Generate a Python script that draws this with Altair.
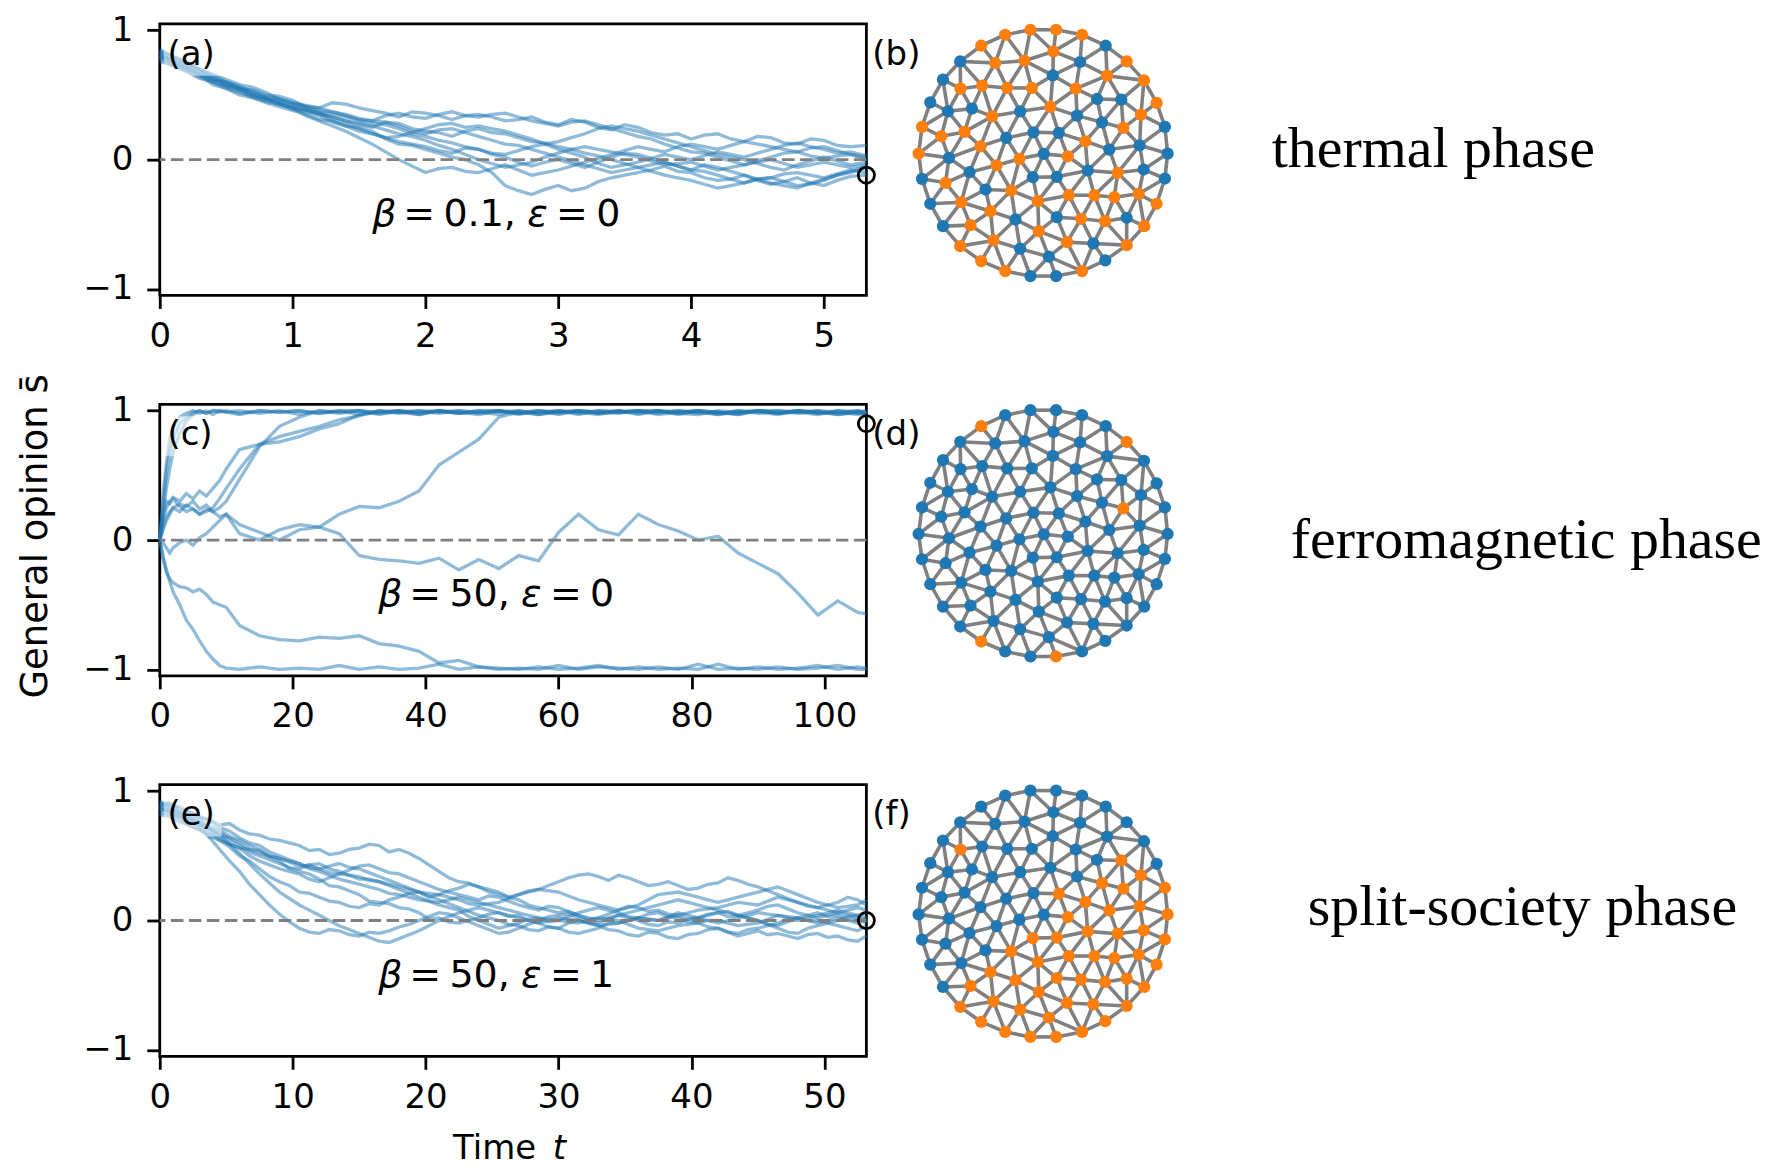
import altair as alt
import pandas as pd

BLUE = "#1f77b4"
ORANGE = "#ff7f0e"

# ---------------- trajectories ----------------
T_A = [0.0, 0.1, 0.2, 0.3, 0.4, 0.5, 0.6, 0.7, 0.8, 0.9, 1.0, 1.1, 1.2, 1.3, 1.4, 1.5, 1.6, 1.7,
       1.8, 1.9, 2.0, 2.1, 2.2, 2.3, 2.4, 2.5, 2.6, 2.7, 2.8, 2.9, 3.0, 3.1, 3.2, 3.3, 3.4, 3.5,
       3.6, 3.7, 3.8, 3.9, 4.0, 4.1, 4.2, 4.3, 4.4, 4.5, 4.6, 4.7, 4.8, 4.9, 5.0, 5.1, 5.2, 5.32]
A1 = [.84, .80, .74, .70, .62, .60, .55, .54, .50, .49, .46, .41, .40, .44, .43, .40, .38, .36, .33, .37, .36, .34, .31, .34, .35, .33, .30, .31, .33, .29, .27, .31, .29, .25, .23, .27, .25, .21, .19, .20, .16, .19, .20, .16, .14, .18, .17, .13, .12, .16, .15, .11, .10, .11]
A2 = [.80, .76, .70, .66, .58, .55, .50, .48, .44, .41, .38, .35, .31, .30, .26, .25, .22, .16, .12, .11, .08, .05, .02, .00, -.04, -.10, -.20, -.24, -.27, -.23, -.20, -.24, -.22, -.17, -.14, -.12, -.10, -.08, -.05, -.09, -.10, -.14, -.16, -.15, -.12, -.16, -.19, -.17, -.14, -.18, -.20, -.16, -.13, -.12]
A3 = [.78, .72, .69, .64, .60, .57, .54, .50, .47, .44, .40, .38, .35, .33, .30, .27, .25, .29, .28, .24, .22, .21, .18, .22, .24, .21, .20, .17, .14, .13, .10, .08, .05, .03, .00, -.03, -.06, -.04, -.02, -.05, -.08, -.09, -.12, -.15, -.18, -.15, -.14, -.17, -.20, -.19, -.16, -.12, -.09, -.05]
A4 = [.85, .80, .76, .70, .66, .62, .58, .56, .52, .47, .44, .41, .38, .37, .34, .31, .30, .34, .36, .33, .32, .35, .37, .34, .33, .35, .36, .33, .30, .28, .26, .29, .30, .27, .24, .21, .18, .16, .12, .09, .06, .05, .02, -.01, -.04, -.01, .02, .05, .06, .03, .01, .03, .04, .00]
A5 = [.82, .76, .72, .69, .64, .58, .55, .50, .47, .45, .42, .39, .36, .31, .28, .24, .20, .17, .14, .12, .10, .07, .05, .09, .08, .04, .02, -.02, -.05, -.02, .00, -.03, -.06, -.02, .02, .05, .04, .01, -.02, -.05, -.08, -.04, -.06, -.09, -.12, -.15, -.18, -.20, -.22, -.18, -.15, -.12, -.10, -.06]
A6 = [.76, .73, .68, .63, .60, .55, .52, .49, .46, .43, .40, .34, .30, .26, .22, .17, .12, .06, .00, -.05, -.10, -.07, -.06, -.09, -.10, -.07, -.04, -.08, -.12, -.10, -.08, -.05, -.02, .01, .04, .07, .10, .08, .06, .10, .12, .10, .08, .11, .14, .12, .10, .08, .06, .09, .10, .07, .04, .02]
A7 = [.80, .74, .70, .67, .62, .60, .57, .52, .48, .46, .43, .40, .37, .35, .33, .30, .28, .27, .24, .20, .18, .15, .13, .10, .08, .05, .04, .07, .10, .12, .14, .17, .20, .24, .26, .24, .22, .19, .16, .13, .10, .07, .04, .02, .00, -.03, -.06, -.08, -.04, -.01, .02, -.01, -.04, -.02]
A8 = [.83, .78, .75, .70, .65, .60, .56, .53, .49, .47, .44, .42, .40, .37, .35, .32, .30, .29, .26, .22, .20, .23, .24, .21, .18, .15, .12, .11, .08, .05, .02, -.01, -.04, -.07, -.10, -.08, -.06, -.09, -.12, -.14, -.16, -.19, -.22, -.20, -.18, -.15, -.14, -.11, -.10, -.12, -.14, -.11, -.08, -.10]
A9 = [.79, .76, .71, .66, .63, .58, .55, .51, .48, .43, .39, .37, .34, .29, .26, .22, .20, .17, .18, .21, .24, .27, .28, .25, .26, .24, .22, .19, .16, .12, .08, .05, .02, -.03, -.06, -.04, -.02, .01, .04, .02, .00, .03, .06, .04, .02, .05, .08, .11, .13, .10, .08, .05, .06, .03]
A10 = [.81, .77, .73, .66, .61, .57, .53, .48, .45, .43, .41, .38, .36, .33, .30, .28, .26, .23, .20, .18, .15, .11, .08, .04, .00, -.03, -.06, -.04, -.02, .02, .05, .08, .10, .08, .06, .04, .02, -.01, -.04, -.03, -.02, -.05, -.08, -.06, -.04, -.02, .00, -.03, -.06, -.04, -.02, -.04, -.06, -.04]

T_C = [0.0, 0.5, 1.0, 1.5, 2.0, 3.0, 4.0, 5.0, 6.0, 7.0, 8.0, 9.0, 10.0,
       12, 15, 18, 21, 24, 27, 30, 33, 36, 39, 42, 45, 48, 51, 54, 57, 60, 63, 66, 69,
       72, 75, 78, 81, 84, 87, 90, 93, 96, 99, 102, 105, 106.3]
C1 = [0.00, 0.35, 0.60, 0.78, 0.88, 0.95, 0.98, 1.00, 0.98, 1.00, 0.97, 1.00, 0.99,
      1.00, 0.98, 1.00, 0.97, 1.00, 0.99, 1.00, 0.98, 0.99, 1.00,
      0.98, 1.00, 0.99, 0.97, 1.00, 0.98, 1.00, 0.99, 0.97, 1.00,
      0.98, 1.00, 0.99, 1.00, 0.97, 0.99, 1.00, 0.98, 1.00, 0.99,
      0.97, 0.99, 0.98]
C2 = [0.00, 0.20, 0.40, 0.55, 0.68, 0.82, 0.92, 0.97, 1.00, 0.98, 1.00, 0.99, 1.00,
      0.98, 1.00, 0.99, 1.00, 0.98, 1.00, 0.97, 0.99, 1.00, 0.98,
      1.00, 0.99, 0.97, 1.00, 0.98, 0.99, 1.00, 0.97, 1.00, 0.99,
      1.00, 0.98, 1.00, 0.99, 0.97, 1.00, 0.98, 1.00, 0.99, 0.97,
      1.00, 0.98, 0.97]
C3 = [0.00, 0.15, 0.25, 0.30, 0.33, 0.30, 0.36, 0.32, 0.38, 0.34, 0.40, 0.46, 0.55,
      0.70, 0.74, 0.80, 0.84, 0.88, 0.93, 0.96, 1.00, 0.98, 1.00,
      0.99, 1.00, 0.98, 1.00, 0.97, 1.00, 0.99, 1.00, 0.98, 0.99,
      1.00, 0.97, 0.99, 1.00, 0.98, 1.00, 0.99, 0.97, 1.00, 0.98,
      0.99, 1.00, 0.98]
C4 = [0.00, 0.20, 0.30, 0.28, 0.32, 0.26, 0.22, 0.24, 0.20, 0.22, 0.25, 0.32, 0.40,
      0.55, 0.74, 0.76, 0.80, 0.86, 0.90, 0.97, 1.00, 0.99, 0.97,
      1.00, 0.98, 1.00, 0.99, 1.00, 0.97, 0.99, 1.00, 0.98, 1.00,
      0.99, 1.00, 0.98, 0.97, 1.00, 0.99, 1.00, 0.98, 0.99, 1.00,
      0.97, 0.99, 1.00]
C5 = [0.00, 0.10, 0.18, 0.22, 0.25, 0.28, 0.26, 0.30, 0.24, 0.27, 0.22, 0.25, 0.30,
      0.47, 0.72, 0.88, 0.95, 1.00, 0.98, 1.00, 0.99, 1.00, 0.97,
      1.00, 0.98, 0.99, 1.00, 0.98, 1.00, 0.97, 1.00, 0.99, 0.98,
      1.00, 0.99, 1.00, 0.98, 0.99, 0.97, 1.00, 0.99, 1.00, 0.98,
      1.00, 0.99, 0.98]
C6 = [0.00, -0.02, -0.06, -0.10, -0.06, -0.02, 0.00, -0.04, 0.02, 0.05, 0.10, 0.15, 0.20,
      0.12, 0.06, 0.00, 0.08, 0.10, 0.20, 0.26, 0.25, 0.30, 0.38,
      0.58, 0.68, 0.78, 0.95, 0.99, 1.00, 0.98, 1.00, 0.99, 1.00,
      0.97, 1.00, 0.98, 1.00, 0.99, 0.97, 1.00, 0.98, 1.00, 0.99,
      0.98, 1.00, 0.99]
C7 = [0.00, 0.08, 0.15, 0.20, 0.25, 0.22, 0.27, 0.24, 0.20, 0.24, 0.22, 0.18, 0.20,
      0.05, 0.00, 0.08, 0.12, 0.10, 0.05, -0.12, -0.15, -0.16, -0.18,
      -0.14, -0.23, -0.15, -0.22, -0.12, -0.16, 0.06, 0.20, 0.08, 0.04,
      0.20, 0.12, 0.07, 0.00, 0.03, -0.10, -0.18, -0.26, -0.41, -0.58,
      -0.47, -0.56, -0.57]
C8 = [0.00, -0.12, -0.23, -0.32, -0.40, -0.50, -0.62, -0.69, -0.78, -0.86, -0.92, -0.97, -0.99,
      -1.00, -0.98, -1.00, -0.99, -1.00, -0.97, -1.00, -0.98, -1.00, -0.99,
      -0.96, -1.00, -0.98, -1.00, -0.99, -1.00, -0.97, -1.00, -0.98, -0.99,
      -1.00, -0.98, -1.00, -0.96, -1.00, -0.99, -1.00, -0.98, -1.00, -0.99,
      -0.97, -1.00, -1.00]
C9 = [0.00, -0.15, -0.25, -0.30, -0.33, -0.36, -0.37, -0.40, -0.38, -0.42, -0.48, -0.50, -0.52,
      -0.66, -0.74, -0.77, -0.78, -0.75, -0.76, -0.74, -0.80, -0.82, -0.86,
      -0.95, -0.93, -0.98, -0.99, -1.00, -0.98, -1.00, -0.99, -0.97, -1.00,
      -0.98, -1.00, -0.99, -1.00, -0.96, -1.00, -0.98, -1.00, -0.99, -0.97,
      -1.00, -0.98, -0.99]
C10 = [0.00, 0.28, 0.52, 0.68, 0.78, 0.90, 0.95, 0.99, 1.00, 0.98, 1.00, 1.00, 0.99,
       0.97, 1.00, 0.99, 1.00, 0.98, 1.00, 1.00, 0.97, 1.00, 0.99,
       1.00, 0.98, 1.00, 1.00, 0.99, 0.97, 1.00, 0.98, 1.00, 0.99,
       1.00, 1.00, 0.97, 1.00, 0.99, 0.98, 1.00, 1.00, 0.98, 1.00,
       0.99, 0.97, 0.99]

T_E = [0.0, 0.75, 1.5, 2.25, 3.0, 3.75, 4.5, 5.25, 6.0, 6.75, 7.5, 8.25, 9.0, 9.75, 10.5, 11.25,
       12.0, 12.75, 13.5, 14.25, 15.0, 15.75, 16.5, 17.25, 18.0, 18.75, 19.5, 20.25, 21.0, 21.75,
       22.5, 23.25, 24.0, 24.75, 25.5, 26.25, 27.0, 27.75, 28.5, 29.25, 30.0, 30.75, 31.5, 32.25,
       33.0, 33.75, 34.5, 35.25, 36.0, 36.75, 37.5, 38.25, 39.0, 39.75, 40.5, 41.25, 42.0, 42.75,
       43.5, 44.25, 45.0, 45.75, 46.5, 47.25, 48.0, 48.75, 49.5, 50.25, 51.0, 51.75, 52.5, 53.16]
E1 = [.90, .91, .86, .84, .80, .78, .74, .75, .70, .67, .66, .63, .62, .60, .58, .54, .55, .51, .52, .55, .56, .59, .58, .53, .55, .52, .48, .43, .38, .33, .30, .29, .26, .24, .22, .18, .20, .23, .24, .27, .30, .33, .35, .36, .34, .31, .35, .33, .30, .27, .28, .30, .27, .24, .25, .28, .29, .33, .31, .28, .26, .23, .20, .17, .14, .11, .10, .12, .14, .18, .16, .12]
E2 = [.88, .86, .82, .79, .74, .69, .62, .57, .50, .46, .40, .34, .30, .27, .22, .21, .18, .15, .14, .11, .10, .13, .12, .16, .18, .21, .22, .18, .20, .23, .25, .28, .26, .22, .20, .18, .16, .12, .10, .08, .06, .07, .04, .01, .02, .05, .08, .11, .10, .07, .08, .05, .04, .01, .02, .04, .06, .07, .04, .02, .00, -.03, -.04, -.01, .02, .04, .06, .03, .04, .01, .00, .02]
E3 = [.86, .84, .80, .77, .72, .64, .55, .46, .38, .28, .20, .12, .05, -.01, -.06, -.09, -.10, -.07, -.08, -.11, -.12, -.09, -.10, -.08, -.05, -.03, .00, .03, .06, .05, .02, -.01, -.04, -.07, -.10, -.09, -.06, -.03, .00, .03, .04, .05, .02, -.01, -.02, .01, .04, .02, .00, -.03, -.04, -.01, -.02, .01, .02, .05, .06, .03, .04, .02, .00, -.03, -.06, -.09, -.10, -.06, -.04, -.02, .00, .03, .04, .02]
E4 = [.90, .87, .84, .82, .78, .73, .70, .65, .62, .58, .55, .50, .48, .45, .42, .43, .40, .42, .44, .41, .40, .37, .34, .31, .28, .25, .22, .19, .16, .13, .10, .07, .04, .02, .00, -.03, -.04, -.07, -.08, -.05, -.06, -.02, .00, -.02, -.04, -.07, -.08, -.11, -.12, -.09, -.10, -.13, -.14, -.11, -.10, -.07, -.06, -.09, -.12, -.10, -.08, -.11, -.10, -.12, -.14, -.11, -.10, -.13, -.12, -.15, -.16, -.12]
E5 = [.84, .82, .78, .73, .70, .67, .64, .59, .56, .50, .46, .43, .40, .38, .36, .32, .30, .33, .36, .39, .42, .43, .40, .37, .36, .33, .30, .27, .24, .22, .20, .18, .16, .19, .18, .15, .12, .10, .08, .11, .10, .07, .04, .02, .00, .02, .04, .06, .08, .10, .12, .14, .16, .14, .12, .10, .08, .06, .04, .06, .08, .11, .12, .09, .06, .04, .02, .04, .06, .08, .10, .08]
E6 = [.88, .83, .80, .79, .76, .71, .68, .62, .58, .53, .50, .47, .44, .41, .40, .43, .44, .40, .38, .35, .32, .32, .30, .27, .24, .21, .18, .15, .12, .10, .08, .03, .00, -.03, -.06, -.04, -.02, .01, .02, -.01, .00, .03, .06, .08, .10, .08, .06, .03, .02, .01, .00, .02, .04, .06, .08, .09, .10, .12, .14, .13, .12, .15, .18, .16, .14, .12, .10, .08, .06, .04, .02, -.02]
E7 = [.86, .85, .82, .80, .76, .71, .66, .59, .52, .44, .36, .29, .22, .17, .12, .08, .04, .00, -.04, -.07, -.10, -.13, -.16, -.17, -.14, -.11, -.08, -.04, .00, .03, .06, .08, .10, .08, .06, .04, .02, .00, -.02, .00, .02, .01, .00, -.02, -.04, -.03, -.02, .00, .02, .01, .00, .03, .06, .04, .02, .00, -.02, .00, .02, .04, .06, .05, .04, .02, .00, .02, .04, .06, .08, .06, .04, .06]
E8 = [.92, .89, .88, .84, .80, .77, .72, .69, .64, .60, .58, .53, .50, .47, .44, .40, .38, .35, .32, .30, .28, .26, .24, .21, .20, .18, .16, .15, .14, .16, .18, .16, .14, .12, .10, .08, .06, .04, .02, .01, .00, -.01, -.02, .00, .02, .01, .00, -.03, -.06, -.07, -.08, -.06, -.04, -.03, -.02, .00, .00, -.02, -.04, -.03, -.02, .01, .04, .03, .02, .00, -.02, .00, .02, .00, -.02, .00]
E9 = [.82, .80, .76, .74, .70, .65, .62, .59, .56, .55, .52, .50, .48, .46, .44, .41, .40, .37, .36, .35, .34, .31, .30, .28, .26, .24, .22, .21, .20, .18, .16, .13, .12, .13, .14, .17, .20, .22, .24, .23, .22, .19, .16, .14, .12, .10, .08, .10, .12, .16, .20, .21, .22, .20, .18, .16, .14, .16, .18, .20, .22, .24, .26, .23, .20, .17, .14, .12, .10, .11, .12, .16]
E10 = [.90, .89, .84, .77, .74, .71, .66, .64, .60, .55, .54, .49, .46, .40, .38, .36, .32, .27, .26, .23, .20, .15, .14, .13, .10, .09, .06, .01, .02, -.01, -.02, .00, .02, .05, .06, .03, .04, .00, -.02, -.05, -.06, -.09, -.10, -.08, -.06, -.02, -.02, .00, .02, .05, .06, .03, .02, -.01, -.02, -.05, -.06, -.09, -.10, -.07, -.06, -.04, -.02, .01, .02, .00, .00, -.02, -.04, -.06, -.08, -.04]

TIMES = [T_A, T_C, T_E]
RUNS = [[A1, A2, A3, A4, A5, A6, A7, A8, A9, A10],
        [C1, C2, C3, C4, C5, C6, C7, C8, C9, C10],
        [E1, E2, E3, E4, E5, E6, E7, E8, E9, E10]]
END_T = [5.32, 106.3, 53.16]
END_S = [-0.12, 0.90, 0.0]
X_MAX = [5.32, 106.3, 53.16]
X_TICKS = [[0, 1, 2, 3, 4, 5], [0, 20, 40, 60, 80, 100], [0, 10, 20, 30, 40, 50]]
Y_TICKS = [-1, 0, 1]

# ---------------- network (node positions, same layout in b, d, f) ----------------
NODE_X = [1029.3, 1055.0, 1004.0, 1081.0, 980.0, 1104.7, 1052.3, 959.0, 994.0, 1023.3,
          1079.0, 1125.7, 1051.7, 1106.0, 941.7, 959.3, 981.0, 1006.0, 1030.7, 1074.7,
          1143.0, 929.0, 1096.0, 1120.3, 1155.7, 946.7, 970.7, 1019.0, 1049.3, 991.0,
          1076.0, 1140.0, 920.7, 1101.0, 1164.0, 940.0, 963.3, 1032.3, 1057.7, 1005.0,
          1122.3, 1084.3, 979.3, 1138.7, 1108.3, 917.3, 947.7, 1042.7, 1018.3, 1066.7,
          1166.7, 995.3, 968.3, 1086.7, 1116.7, 1142.7, 920.7, 1031.7, 1055.7, 1164.0,
          944.3, 984.3, 1010.0, 929.0, 960.0, 1036.7, 1067.7, 1093.3, 1113.3, 1137.7,
          1155.7, 989.3, 1014.3, 1055.7, 1080.0, 1104.0, 1125.7, 941.7, 969.3, 1037.7,
          1143.3, 959.0, 992.3, 1019.0, 1066.0, 1092.3, 1125.7, 1047.7, 980.0, 1104.3,
          1004.0, 1029.3, 1055.0, 1081.0]
NODE_Y = [30.0, 30.0, 35.0, 35.0, 46.0, 46.0, 51.7, 61.7, 63.3, 61.0,
          62.3, 61.7, 75.7, 76.0, 80.0, 89.0, 86.0, 88.3, 88.3, 89.0,
          80.7, 102.7, 99.3, 100.0, 103.3, 111.7, 109.0, 111.7, 107.3, 116.7,
          116.0, 115.0, 127.3, 122.7, 127.3, 136.7, 132.3, 132.7, 133.3, 138.3,
          128.3, 141.7, 146.7, 145.7, 150.0, 154.0, 158.3, 154.3, 159.3, 156.7,
          154.0, 165.7, 172.7, 171.0, 173.3, 170.0, 179.3, 177.7, 177.3, 179.0,
          183.3, 190.0, 191.0, 204.3, 202.7, 201.7, 195.7, 195.7, 197.7, 194.3,
          204.3, 211.7, 220.0, 217.7, 219.3, 221.7, 218.3, 226.7, 225.7, 231.7,
          226.7, 246.7, 241.0, 249.3, 242.7, 244.0, 245.7, 257.3, 261.7, 261.0,
          271.7, 276.7, 276.7, 271.7]
ORANGE_B = [1, 2, 3, 4, 5, 7, 9, 10, 12, 14, 16, 17, 18, 19, 20, 21, 25, 29, 30, 32, 33, 36, 37,
            41, 42, 43, 46, 49, 50, 52, 55, 61, 63, 65, 66, 67, 68, 69, 70, 71, 72, 75, 76,
            79, 80, 81, 82, 83, 85, 87, 89, 91, 94]
ORANGE_D = [5, 12, 41, 89, 93]
ORANGE_F = [16, 24, 32, 34, 35, 39, 41, 42, 44, 45, 50, 51, 54, 55, 56, 58, 59, 60, 63, 66, 67,
            68, 69, 70, 71, 72, 73, 74, 75, 76, 77, 79, 80, 81, 82, 83, 84, 85, 86, 87, 88, 89,
            90, 91, 92, 93, 94]
ORANGE_NODES = [ORANGE_B, ORANGE_D, ORANGE_F]

# ---------------- texts ----------------
PANEL_LABELS = [["(a)", "(b)"], ["(c)", "(d)"], ["(e)", "(f)"]]
PHASES = ["thermal phase", "ferromagnetic phase", "split-society phase"]
PARAMS = [["β", "=", "0.1,", "ε", "=", "0"],
          ["β", "=", "50,", "ε", "=", "0"],
          ["β", "=", "50,", "ε", "=", "1"]]
PARAM_ITALIC = [True, False, False, True, False, False]
Y_TITLE = "General opinion s\u0304"
X_TITLE = ["Time", "t"]

# ---------------- layout (full-figure pixel coordinates) ----------------
TOP_PAD = 3.0
LEFT, RIGHT = 157.3, 865.0
W = RIGHT - LEFT
H = 272.0
TOPS = [17.3, 398.3, 779.3]
NET_SHIFT = [-6.8, 374.2, 755.2]
LABEL_X = [165.0, 871.0]
PHASE_X = [1271.0, 1290.0, 1307.0]
PHASE_BASE = [160.7, 552.7, 920.2]
PARAM_X = [[370.0, 401.2, 441.4, 525.3, 554.2, 594.4],
           [376.0, 407.2, 447.4, 519.2, 548.1, 588.3],
           [376.0, 407.2, 447.4, 519.2, 548.1, 588.3]]
TICK_FONT = 34
TEXT_FONT = 38
YTITLE_FONT = 37


def delaunay_edges(xs, ys):
    pts = list(zip(xs, ys))
    n = len(pts)
    cx, cy = sum(xs) / n, sum(ys) / n
    R = 5000.0
    P = pts + [(cx - 2 * R, cy - R), (cx + 2 * R, cy - R), (cx, cy + 2 * R)]

    def circ(t):
        (ax, ay), (bx, by), (qx, qy) = P[t[0]], P[t[1]], P[t[2]]
        d = 2 * (ax * (by - qy) + bx * (qy - ay) + qx * (ay - by))
        a2, b2, q2 = ax * ax + ay * ay, bx * bx + by * by, qx * qx + qy * qy
        ux = (a2 * (by - qy) + b2 * (qy - ay) + q2 * (ay - by)) / d
        uy = (a2 * (qx - bx) + b2 * (ax - qx) + q2 * (bx - ax)) / d
        return ux, uy, (ax - ux) ** 2 + (ay - uy) ** 2

    tris = {(n, n + 1, n + 2): circ((n, n + 1, n + 2))}
    for i in range(n):
        px, py = P[i]
        bad = [t for t, (ux, uy, r2) in tris.items() if (px - ux) ** 2 + (py - uy) ** 2 < r2]
        cnt = {}
        for t in bad:
            for e in ((t[0], t[1]), (t[1], t[2]), (t[2], t[0])):
                k = tuple(sorted(e))
                cnt[k] = cnt.get(k, 0) + 1
        for t in bad:
            del tris[t]
        for (a, b), c in cnt.items():
            if c == 1:
                t = (a, b, i)
                tris[t] = circ(t)
    edges = set()
    for t in tris:
        if max(t) >= n:
            continue
        for e in ((t[0], t[1]), (t[1], t[2]), (t[2], t[0])):
            edges.add(tuple(sorted(e)))
    out = []
    for a, b in sorted(edges):
        if ((xs[a] - xs[b]) ** 2 + (ys[a] - ys[b]) ** 2) ** 0.5 < 40:
            out.append((a, b))
    return out


EDGES = delaunay_edges(NODE_X, NODE_Y)


def make_row(k):
    top = TOPS[k]
    # ---- line panel ----
    T = TIMES[k]
    recs = []
    for j, run in enumerate(RUNS[k]):
        for i in range(len(T)):
            recs.append({"t": T[i], "s": run[i], "run": j})
    df = pd.DataFrame(recs)
    xsc = alt.Scale(domain=[0, X_MAX[k]], nice=False, zero=False)
    ysc = alt.Scale(domain=[-1.05, 1.05], nice=False, zero=False)
    xax = alt.Axis(values=X_TICKS[k], title=None, format="d", labelPadding=11)
    yax = alt.Axis(values=Y_TICKS, title=None, labelPadding=14,
                   labelExpr="datum.value > 0.5 ? '1' : (datum.value < -0.5 ? '\u22121' : '0')")
    lines = alt.Chart(df).mark_line(color=BLUE, opacity=0.5, strokeWidth=3.3).encode(
        x=alt.X("t:Q", scale=xsc, axis=xax),
        y=alt.Y("s:Q", scale=ysc, axis=yax),
        detail="run:N",
    )
    zero = alt.Chart(pd.DataFrame({"s": [0.0]})).mark_rule(
        color="#808080", strokeDash=[12.5, 5.5], strokeWidth=2.8
    ).encode(y=alt.Y("s:Q", scale=ysc, axis=yax))
    endpt = alt.Chart(pd.DataFrame({"t": [END_T[k]], "s": [END_S[k]]})).mark_point(
        shape="circle", filled=False, color="black", size=260, strokeWidth=2.8, opacity=1
    ).encode(x=alt.X("t:Q", scale=xsc, axis=xax), y=alt.Y("s:Q", scale=ysc, axis=yax))
    panel = alt.layer(lines, zero, endpt)

    # ---- overlay in figure pixel coordinates ----
    sx = alt.Scale(domain=[LEFT, RIGHT], nice=False, zero=False)
    sy = alt.Scale(domain=[top, top + H], nice=False, zero=False, reverse=True)

    def X(f):
        return alt.X(f, scale=sx, axis=None)

    def Y(f):
        return alt.Y(f, scale=sy, axis=None)

    sh = NET_SHIFT[k]
    ndf = pd.DataFrame({
        "x": NODE_X,
        "y": [v + sh for v in NODE_Y],
        "c": [ORANGE if (i + 1) in ORANGE_NODES[k] else BLUE for i in range(len(NODE_X))],
    })
    edf = pd.DataFrame([{"x1": NODE_X[a], "y1": NODE_Y[a] + sh, "x2": NODE_X[b], "y2": NODE_Y[b] + sh}
                        for a, b in EDGES])
    edges = alt.Chart(edf).mark_rule(color="#808080", strokeWidth=3.6).encode(
        x=X("x1:Q"), y=Y("y1:Q"), x2="x2:Q", y2="y2:Q")
    nodes = alt.Chart(ndf).mark_circle(size=150, opacity=1).encode(
        x=X("x:Q"), y=Y("y:Q"), color=alt.Color("c:N", scale=None))

    def text_layer(rows, **kw):
        d = pd.DataFrame(rows)
        return alt.Chart(d).mark_text(**kw).encode(x=X("x:Q"), y=Y("y:Q"), text="text:N")

    base = top + 40.7
    veil = alt.Chart(pd.DataFrame({"x": [LEFT + 4], "x2": [LEFT + 62], "y": [top + 12], "y2": [top + 52]})).mark_rect(
        color="white", opacity=0.55).encode(x=X("x:Q"), x2="x2:Q", y=Y("y:Q"), y2="y2:Q")
    layers = [veil, edges, nodes]
    layers.append(text_layer(
        [{"text": PANEL_LABELS[k][0], "x": LABEL_X[0], "y": base},
         {"text": PANEL_LABELS[k][1], "x": LABEL_X[1], "y": base}],
        font="DejaVu Sans", fontSize=TICK_FONT, align="left", baseline="alphabetic", color="black"))
    layers.append(text_layer(
        [{"text": PHASES[k], "x": PHASE_X[k], "y": PHASE_BASE[k]}],
        font="Liberation Serif", fontSize=58, align="left", baseline="alphabetic", color="black"))
    pb = top + 202.2
    up = [{"text": PARAMS[k][i], "x": PARAM_X[k][i], "y": pb} for i in range(6) if not PARAM_ITALIC[i]]
    it = [{"text": PARAMS[k][i], "x": PARAM_X[k][i], "y": pb} for i in range(6) if PARAM_ITALIC[i]]
    layers.append(text_layer(up, font="DejaVu Sans", fontSize=TEXT_FONT, align="left",
                             baseline="alphabetic", color="black"))
    layers.append(text_layer(it, font="DejaVu Sans", fontSize=TEXT_FONT, fontStyle="italic",
                             align="left", baseline="alphabetic", color="black"))
    if k == 0:
        layers.append(alt.Chart(pd.DataFrame({"x": [8.0], "y": [12.0]})).mark_point(
            size=1, opacity=0).encode(x=X("x:Q"), y=Y("y:Q")))
    if k == 1:
        layers.append(text_layer(
            [{"text": Y_TITLE, "x": 44.0, "y": 530.7}],
            font="DejaVu Sans", fontSize=YTITLE_FONT, angle=270, align="center",
            baseline="alphabetic", color="black"))
    if k == 2:
        layers.append(text_layer(
            [{"text": X_TITLE[0], "x": 451.0, "y": 1154.0}],
            font="DejaVu Sans", fontSize=TICK_FONT, align="left", baseline="alphabetic", color="black"))
        layers.append(text_layer(
            [{"text": X_TITLE[1], "x": 551.0, "y": 1154.0}],
            font="DejaVu Sans", fontSize=TICK_FONT, fontStyle="italic", align="left",
            baseline="alphabetic", color="black"))
        layers.append(alt.Chart(pd.DataFrame({"x": [1764.0], "y": [1154.0]})).mark_point(
            size=1, opacity=0).encode(x=X("x:Q"), y=Y("y:Q")))
    overlay = alt.layer(*layers)

    return alt.layer(panel, overlay).resolve_scale(x="independent", y="independent").properties(
        width=W, height=H)


chart = alt.vconcat(make_row(0), make_row(1), make_row(2), spacing=109, bounds="flush").properties(
    padding={"top": TOP_PAD, "left": 0, "right": 0, "bottom": 0}
).configure_view(
    stroke="black", strokeWidth=2.8
).configure_axis(
    domain=False, grid=False, ticks=True, tickColor="black", tickWidth=2.8, tickSize=13,
    labelFont="DejaVu Sans", labelFontSize=TICK_FONT, labelColor="black",
    labelFlush=False, labelOverlap=False
)

chart.save("out.html", embed_options={"renderer": "svg", "actions": False})
